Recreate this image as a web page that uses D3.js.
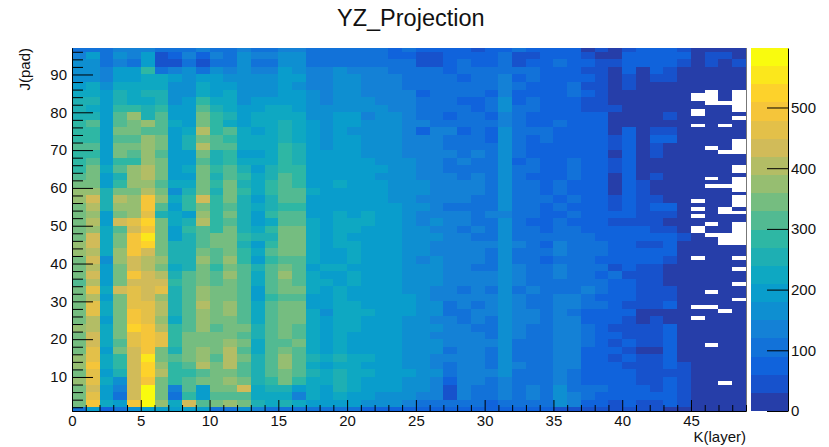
<!DOCTYPE html>
<html>
<head>
<meta charset="utf-8">
<script src="https://cdn.jsdelivr.net/npm/d3@7"></script>
<style>
  html, body { margin: 0; background: #fff; }
  text { font-family: "Liberation Sans", Arial, sans-serif; fill: #111; }
</style>
</head>
<body>
<svg id="chart" width="829" height="447"></svg>
<script>
'use strict';

const rowStartJ = [1, 2, 4, 6, 8, 10, 12, 14, 16, 18, 20, 22, 24, 26, 28, 30, 32, 34, 36, 38, 40, 42, 44, 46, 48,
  50, 52, 54, 56, 58, 60, 62, 64, 66, 68, 70, 72, 74, 76, 78, 80, 82, 84, 86, 88, 90, 92, 94, 96];

// counts per K(layer) bin, one row per band, bottom to top
const counts = [
  [100,195,85,115,165,205,190,195,190,190,100,110,150,120,100,100,100, 95,90,95,90,85,85,80,80,75,80,75,70,70,70,70,65,60,60, 55,50,45,40,35,40,35,30,25,25, 20,15,10,10],
  [350,505,215,200,480,590,370,225,420,310,330,360,350,245,225,250,210, 200,200,200,180,160,170,170,130,110,110,90,110,90,85,90,90,90,100, 150,120,70,70,45,70,55,45,80,55, 15,15,15,15],
  [340,450,205,115,440,580,330,115,290,190,310,320,320,210,230,230,130, 210,190,210,190,190,165,175,155,120,125,55,125,105,105,125,100,130,110, 165,120,90,85,60,75,80,60,85,55, 15,15,15,15],
  [345,440,200,130,440,570,340,130,300,205,330,350,420,230,240,250,180, 210,200,240,210,190,200,185,165,150,135,50,125,115,110,140,105,120,105, 150,110,95,90,65,75,60,30,60,50, 15,15,15,15],
  [360,450,210,170,440,500,340,290,300,330,350,360,340,250,280,330,290, 220,210,250,220,200,205,190,175,160,130,70,130,120,115,130,90,95,90, 125,105,75,70,70,60,35,30,75,45, 15,15,15,15],
  [345,465,200,260,435,510,390,290,290,320,345,350,310,240,300,340,310, 240,210,240,230,210,200,195,180,165,150,95,130,125,120,150,115,110,95, 125,110,80,80,70,60,40,40,50,30, 15,15,15,15],
  [360,490,220,280,435,530,380,290,310,390,340,390,320,250,310,360,310, 220,200,230,210,205,200,190,175,165,145,110,135,130,115,165,130,110,100, 130,120,80,85,60,50,40,30,60,30, 15,15,15,15],
  [360,460,210,290,440,540,330,300,340,370,300,390,330,255,310,380,320, 245,215,265,235,220,205,190,175,165,145,120,130,120,95,170,110,105,100, 135,125,85,80,45,60,30,35,75,25, 15,15,15,15],
  [345,450,200,330,440,500,350,260,330,360,340,390,320,210,300,330,310, 225,180,230,195,190,200,180,170,160,155,105,135,125,115,165,105,100,95, 130,125,85,80,65,55,25,25,70,20, 15,15,15,15],
  [350,440,230,310,470,500,470,270,330,340,340,360,330,235,310,320,330, 215,190,225,205,200,195,195,175,150,150,130,130,130,120,175,115,115,100, 135,135,90,85,40,60,50,45,70,25, 15,15,15,15],
  [345,420,230,330,470,490,460,280,340,350,330,340,310,240,320,340,320, 215,190,215,205,190,185,180,165,165,140,135,125,130,115,170,120,110,100, 120,130,110,80,60,50,35,35,65,25, 15,15,15,15],
  [360,390,225,340,510,490,410,270,300,380,320,340,330,240,320,340,320, 225,205,235,225,205,195,205,175,160,150,140,130,110,115,165,125,110,95, 125,120,90,85,55,40,50,45,60,25, 15,15,15,15],
  [340,390,200,330,480,460,370,230,310,370,340,350,310,235,310,330,350, 230,180,235,230,195,205,185,165,155,140,130,115,125,110,165,120,120,105, 130,120,85,80,65,50,25,30,25,20, 15,15,15,15],
  [350,450,210,350,490,470,400,260,300,380,350,360,320,230,300,340,350, 210,170,225,225,210,195,190,180,170,150,115,95,125,125,165,125,125,110, 120,115,80,80,60,60,25,25,25,15, 15,15,15,15],
  [340,450,210,330,450,460,400,260,310,390,340,380,310,230,310,340,330, 205,185,215,210,195,185,180,185,165,150,110,130,110,120,170,120,100,95, 130,120,90,90,65,55,50,50,60,25, 15,15,15,15],
  [350,400,190,330,460,440,380,250,300,360,340,340,320,190,290,320,320, 205,200,210,190,205,195,190,185,160,145,130,125,135,120,155,125,105,95, 120,125,105,85,70,75,40,30,30,15, 15,15,15,15],
  [330,450,220,430,450,440,450,250,320,370,340,350,320,190,300,330,330, 215,190,225,205,195,185,195,165,150,145,125,115,130,115,160,110,120,100, 110,105,120,105,60,75,45,50,30,20, 15,15,15,15],
  [320,400,190,350,440,430,430,270,320,350,320,340,310,210,300,330,320, 225,210,205,210,190,190,185,170,175,160,130,130,120,120,160,125,110,105, 115,115,95,100,80,70,50,30,25,15, 15,15,15,15],
  [330,430,180,350,480,420,390,260,300,340,310,380,310,230,300,360,320, 210,205,200,220,195,190,185,165,175,155,135,135,125,120,165,130,115,100, 130,110,110,85,95,45,50,40,25,15, 15,15,15,15],
  [340,390,190,340,420,400,350,230,250,330,290,340,300,240,300,350,320, 205,210,210,200,190,195,195,170,170,150,135,135,115,115,165,125,105,95, 120,95,105,110,50,60,50,40,25,15, 15,15,15,15],
  [350,430,170,360,430,400,360,240,240,360,300,380,290,180,280,320,320, 210,185,190,210,190,185,190,170,145,150,125,135,120,115,150,115,100,85, 115,115,105,85,60,65,65,65,35,15, 15,15,15,15],
  [360,410,220,360,490,440,350,250,260,350,310,340,290,220,300,340,340, 225,205,205,215,190,180,195,165,160,140,125,125,125,110,160,115,105,95, 130,110,100,90,85,70,60,70,75,20, 15,15,15,15],
  [360,420,220,340,480,510,330,250,240,310,330,340,260,200,280,340,340, 220,200,210,215,190,185,195,170,150,145,135,125,130,120,175,120,110,85, 125,105,90,90,80,85,50,50,80,15, 15,15,15,15],
  [350,420,210,350,490,560,330,200,240,310,330,350,280,240,250,340,350, 215,190,225,205,205,195,190,175,155,160,125,130,115,110,170,105,105,90, 110,105,90,85,80,80,75,75,85,30, 15,15,15,15],
  [340,380,220,320,430,500,330,190,270,320,270,330,240,230,280,330,330, 215,200,230,210,190,185,185,170,155,140,125,110,120,100,175,110,95,75, 95,105,85,85,60,75,60,50,45,25, 15,15,15,15],
  [330,390,190,420,450,530,340,210,250,400,290,300,260,200,230,300,300, 210,195,215,225,210,190,185,165,145,150,140,130,115,100,165,100,85,85, 90,85,70,75,50,50,45,35,15,15, 15,15,15,15],
  [340,370,190,330,370,450,260,210,180,360,280,330,250,180,270,310,310, 190,190,210,205,210,195,180,160,145,135,130,120,115,120,145,105,90,85, 85,90,70,70,60,65,45,30,35,15, 15,15,15,15],
  [350,390,240,370,380,480,320,190,270,340,270,300,260,230,240,290,290, 205,180,205,200,195,190,180,165,150,135,110,115,115,105,165,95,95,85, 100,80,70,75,45,70,45,60,60,15, 15,15,15,15],
  [360,420,240,400,380,490,370,210,290,420,270,330,260,190,240,310,310, 195,190,205,205,205,190,170,155,130,140,130,120,110,115,170,105,90,90, 80,90,70,70,50,75,30,50,15,15, 15,15,15,15],
  [370,380,250,350,340,400,340,150,260,350,240,330,280,220,280,320,300, 210,195,200,185,195,180,165,150,155,140,135,125,120,100,155,95,90,80, 90,80,70,75,25,75,30,25,15,15, 15,15,15,15],
  [340,350,200,280,370,380,320,210,230,330,280,330,260,220,270,310,290, 200,200,210,205,190,190,170,160,150,135,135,125,125,115,160,110,105,75, 90,80,70,75,25,65,30,25,15,15, 15,15,15,15],
  [320,350,190,260,370,390,330,190,180,350,240,320,270,220,250,300,280, 200,190,195,190,185,170,155,150,130,125,130,110,120,95,165,95,85,75, 80,95,70,70,25,60,25,45,15,15, 15,15,15,15],
  [290,340,210,310,360,410,330,190,220,350,270,310,240,200,250,290,270, 200,190,190,185,185,180,170,150,140,125,115,115,110,100,165,90,100,80, 80,100,70,70,30,70,25,25,15,15, 15,15,15,15],
  [290,300,200,270,290,380,340,200,190,320,250,290,230,210,230,280,250, 195,195,205,190,185,170,170,150,135,125,115,120,100,105,170,65,90,75, 85,90,70,70,30,70,25,25,15,15, 15,15,15,15],
  [280,290,190,330,300,370,310,200,190,330,250,270,200,200,220,270,240, 190,180,190,195,175,175,160,145,135,120,125,115,120,105,165,105,80,80, 75,70,70,70,25,65,25,45,25,15, 15,15,15,15],
  [310,300,200,340,350,380,330,180,260,390,310,310,220,210,230,290,250, 190,175,185,190,175,165,160,145,120,125,110,110,110,90,160,90,80,85, 80,75,65,65,45,65,25,55,25,15, 15,15,15,15],
  [290,270,190,300,310,360,350,200,240,340,300,290,220,220,220,260,230, 195,170,190,190,175,170,165,135,125,125,115,110,110,85,170,90,85,90, 70,85,60,65,55,65,25,60,60,15, 15,15,15,15],
  [270,290,180,330,340,320,300,190,230,390,290,320,210,200,230,250,220, 180,160,180,175,155,170,150,135,85,130,120,85,110,85,160,90,90,90, 65,75,60,60,25,65,25,45,45,15, 15,15,15,15],
  [270,310,190,320,340,380,300,210,200,340,270,230,200,230,220,240,210, 180,175,200,195,160,170,160,120,130,110,115,115,100,100,140,90,85,85, 90,65,60,65,25,25,25,25,25,15, 15,15,15,15],
  [260,260,190,300,370,260,320,190,190,330,280,240,190,220,210,230,210, 170,155,195,195,145,155,150,125,115,110,85,90,90,85,140,90,85,85, 85,70,60,60,25,25,25,25,50,15, 15,15,15,15],
  [260,220,190,290,280,240,280,190,200,300,260,220,180,190,220,230,190, 165,155,165,170,155,150,140,135,115,100,100,90,85,90,150,90,90,80, 85,70,50,50,45,25,25,25,25,15, 15,15,15,15],
  [240,240,180,250,230,230,240,160,190,280,220,210,170,200,190,200,180, 150,140,160,160,150,135,130,125,90,110,100,85,85,90,160,85,90,65, 70,65,55,55,25,25,20,25,15,15, 15,15,15,15],
  [220,220,180,240,230,240,250,170,170,230,190,210,170,170,170,190,180, 150,130,150,165,130,135,130,125,70,105,105,90,90,85,130,85,75,65, 75,90,60,55,25,25,25,25,20,15, 15,15,15,15],
  [200,230,170,220,220,220,220,170,150,220,190,190,170,170,170,190,170, 130,135,150,150,125,125,135,100,90,90,95,90,90,90,130,90,85,60, 65,95,55,50,25,30,25,25,20,15, 15,15,15,15],
  [170,170,120,200,190,210,210,180,150,190,200,170,170,150,170,200,190, 140,130,175,160,120,130,125,115,100,90,90,85,90,90,145,85,90,60, 70,70,60,55,25,55,25,55,55,15, 15,15,15,15],
  [160,170,130,190,180,280,90,120,160,100,170,140,170,120,130,180,170, 130,135,150,145,120,130,110,100,95,95,85,90,100,115,115,100,100,60, 80,80,30,50,25,60,25,75,55,20, 15,15,15,15],
  [150,160,90,140,110,190,35,55,110,45,100,100,150,90,110,150,160, 115,90,100,105,100,90,95,90,50,55,80,90,85,85,100,55,85,75, 95,80,60,45,50,75,85,65,65,55, 15,45,15,40],
  [140,190,110,170,130,190,40,65,140,70,130,110,170,120,140,170,150, 105,100,105,110,100,105,85,60,45,50,75,85,75,85,95,50,55,60, 85,65,30,25,25,70,80,60,60,60, 15,50,55,15],
  [100,100,90,120,120,120,90,90,110,120,110,100,120,90,100,130,120, 90,95,100,100,105,100,85,90,60,60,80,75,55,85,85,90,85,60, 85,80,25,30,25,50,60,75,75,45, 15,15,15,15]
];

// J rows with no entries (drawn white), per K(layer) bin
const emptyK45 = [25, 28, 41, 48, 49, 52, 54, 56, 76, 79, 80, 83, 84];
const emptyK46 = [18, 28, 32, 47, 50, 60, 62, 70, 82, 83, 84, 85];
const emptyK47 = [8, 27, 45, 46, 47, 53, 54, 60, 69, 76, 82];
const emptyK48 = [30, 34, 38, 41, 45, 46, 47, 48, 49, 50, 53, 55, 56, 57, 59, 60, 61, 62, 64, 65, 69, 70, 71, 72, 78, 80, 81, 82, 83, 84, 85];

const xMajorTicks = [0, 5, 10, 15, 20, 25, 30, 35, 40, 45];
const yMajorTicks = [10, 20, 30, 40, 50, 60, 70, 80, 90];
const zTicks = [0, 100, 200, 300, 400, 500];
const birdStops = ["#352a87", "#0f5cdd", "#1481d6", "#06a4ca", "#2eb7a4", "#87bf77", "#d1bb59", "#fec832", "#f9fb0e"];

const svg = d3.select("#chart");
const plotLeft = 72, plotRight = 746, plotTop = 48, plotBottom = 411;
const nLevels = 20, zMax = 598;

const x = d3.scaleLinear().domain([0, 49]).range([plotLeft, plotRight]);
const y = d3.scaleLinear().domain([1, 97]).range([plotBottom, plotTop]);
const z = d3.scaleLinear().domain([0, zMax]).range([plotBottom, plotTop]);

const bird = d3.scaleLinear()
  .domain(birdStops.map((d, i) => i / (birdStops.length - 1)))
  .range(birdStops);
const levelColors = d3.range(nLevels).map(i => bird((i + 1) / nLevels));
const color = d3.scaleQuantize().domain([0, zMax]).range(levelColors);

const empty = new Set();
[[45, emptyK45], [46, emptyK46], [47, emptyK47], [48, emptyK48]].forEach(([k, list]) => {
  list.forEach(j => empty.add(`${k}-${j}`));
});

const cells = [];
counts.forEach((row, r) => {
  const j0 = rowStartJ[r];
  const j1 = r + 1 < rowStartJ.length ? rowStartJ[r + 1] : 97;
  row.forEach((v, k) => {
    for (let j = j0; j < j1; j++) {
      if (!empty.has(`${k}-${j}`)) cells.push({ k, j, v });
    }
  });
});

svg.append("g")
  .attr("shape-rendering", "crispEdges")
  .selectAll("rect")
  .data(cells)
  .join("rect")
  .attr("x", d => x(d.k))
  .attr("y", d => y(d.j + 1))
  .attr("width", d => x(d.k + 1) - x(d.k))
  .attr("height", d => y(d.j) - y(d.j + 1))
  .attr("fill", d => color(d.v));

// colour bar
const barX0 = 751, barX1 = 788;
svg.append("g")
  .attr("shape-rendering", "crispEdges")
  .selectAll("rect")
  .data(levelColors)
  .join("rect")
  .attr("x", barX0)
  .attr("y", (d, i) => z((i + 1) * zMax / nLevels))
  .attr("width", barX1 - barX0)
  .attr("height", (d, i) => z(i * zMax / nLevels) - z((i + 1) * zMax / nLevels))
  .attr("fill", d => d);

// frame on the right of the plot
svg.append("line")
  .attr("x1", plotRight + 0.5).attr("x2", plotRight + 0.5)
  .attr("y1", plotTop).attr("y2", plotBottom)
  .attr("stroke", "#777");

const styleAxis = g => {
  g.selectAll("path.domain").attr("stroke", "#000");
  g.selectAll("line").attr("stroke", "#000");
  g.selectAll("text").attr("font-size", 15).attr("fill", "#111")
    .attr("font-family", "Liberation Sans");
};

// x axis
svg.append("g")
  .attr("transform", `translate(0,${plotBottom})`)
  .call(d3.axisBottom(x).tickValues(d3.range(0, 50).filter(d => !xMajorTicks.includes(d)))
    .tickSize(-6).tickSizeOuter(0).tickFormat(""))
  .call(styleAxis);
svg.append("g")
  .attr("transform", `translate(0,${plotBottom})`)
  .call(d3.axisBottom(x).tickValues(xMajorTicks).tickSize(-11).tickSizeOuter(0).tickPadding(4))
  .call(styleAxis);

// y axis
svg.append("g")
  .attr("transform", `translate(${plotLeft},0)`)
  .call(d3.axisLeft(y).tickValues(d3.range(2, 97, 2).filter(d => !yMajorTicks.includes(d)))
    .tickSize(-11).tickSizeOuter(0).tickFormat(""))
  .call(styleAxis);
svg.append("g")
  .attr("transform", `translate(${plotLeft},0)`)
  .call(d3.axisLeft(y).tickValues(yMajorTicks).tickSize(-21).tickSizeOuter(0).tickPadding(5))
  .call(styleAxis);

// z axis
svg.append("g")
  .attr("transform", `translate(${barX1},0)`)
  .call(d3.axisRight(z).tickValues(zTicks).tickSize(-21).tickSizeOuter(0).tickPadding(3))
  .call(styleAxis)
  .selectAll("text").attr("text-anchor", "start");

svg.append("text")
  .attr("x", 337).attr("y", 25.5)
  .attr("font-size", 23.5)
  .text("YZ_Projection");

svg.append("text")
  .attr("x", 746).attr("y", 441.5)
  .attr("text-anchor", "end")
  .attr("font-size", 15)
  .text("K(layer)");

svg.append("text")
  .attr("transform", "translate(30,48) rotate(-90)")
  .attr("text-anchor", "end")
  .attr("font-size", 15)
  .text("J(pad)");
</script>
</body>
</html>
